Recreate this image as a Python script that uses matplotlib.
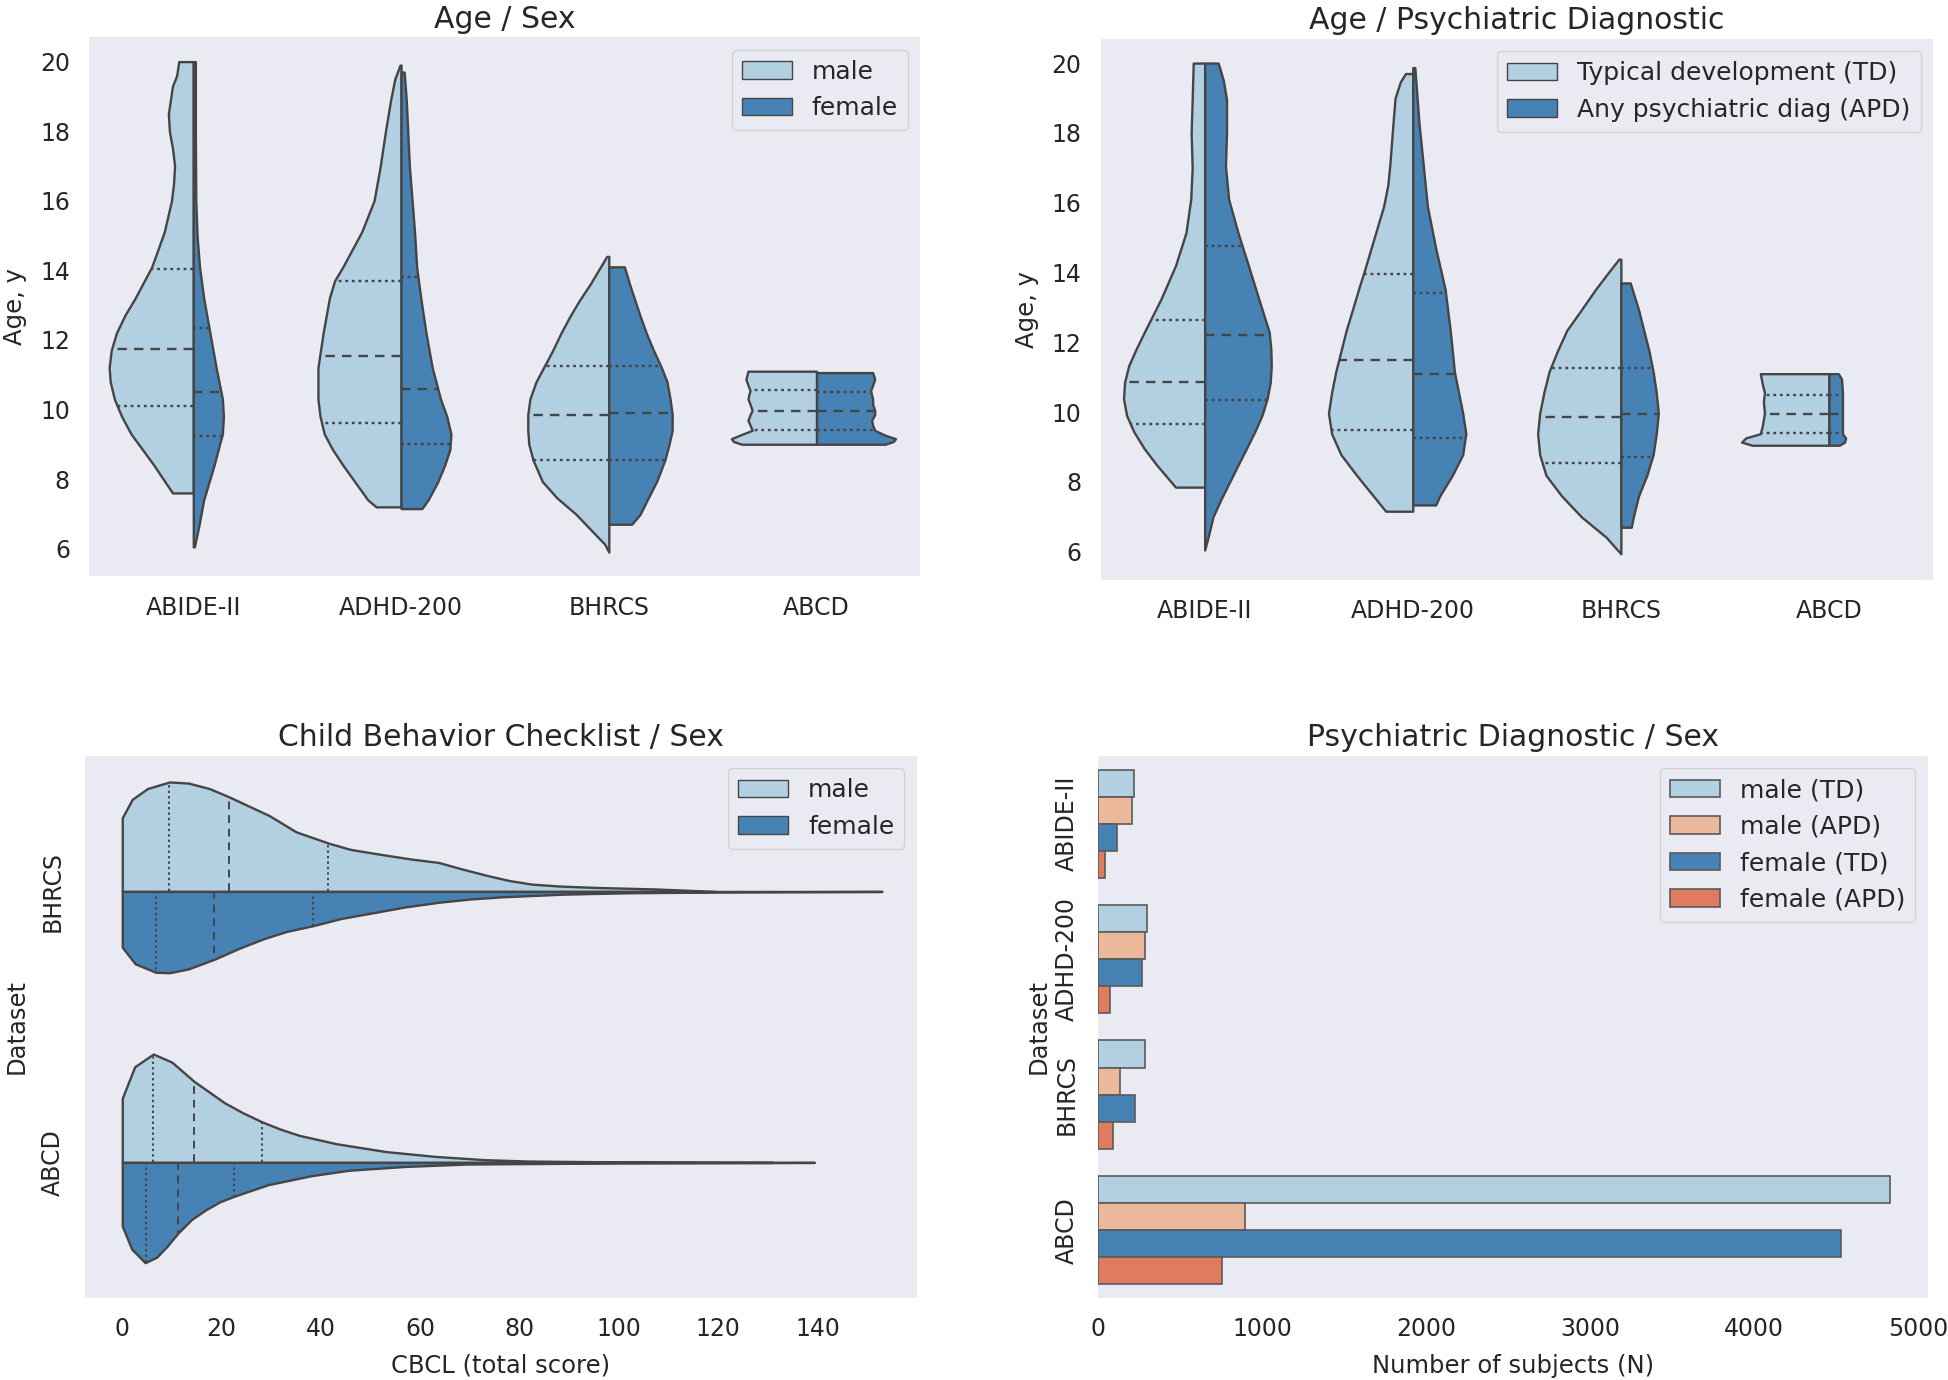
import numpy as np
import matplotlib.pyplot as plt
from matplotlib.patches import Patch

plt.rcParams['font.family'] = ['DejaVu Sans']
plt.rcParams['text.color'] = '#262626'
plt.rcParams['axes.labelcolor'] = '#262626'
plt.rcParams['xtick.color'] = '#262626'
plt.rcParams['ytick.color'] = '#262626'

# ---- data ----
datasets = ["ABIDE-II", "ADHD-200", "BHRCS", "ABCD"]
cbcl_datasets = ["BHRCS", "ABCD"]

# Age / Sex : half-violin profiles (age, half width) and quartiles
abide_m_age = [7.6, 8.4, 9.3, 9.8, 10.3, 10.8, 11.2, 11.7, 12.2, 12.7, 13.2, 14.1, 15.1, 16.0, 16.5, 17.0, 17.5, 18.0, 18.5, 18.9, 19.3, 19.6, 20.0]
abide_m_w = [0.10, 0.19, 0.30, 0.345, 0.38, 0.40, 0.405, 0.395, 0.37, 0.33, 0.28, 0.20, 0.14, 0.105, 0.095, 0.09, 0.10, 0.115, 0.12, 0.11, 0.10, 0.08, 0.07]
abide_f_age = [6.05, 6.6, 7.4, 8.4, 9.3, 9.8, 10.3, 11.2, 12.2, 13.2, 14.1, 15.0, 16.0, 18.0, 20.0]
abide_f_w = [0.005, 0.025, 0.05, 0.10, 0.14, 0.145, 0.14, 0.11, 0.08, 0.05, 0.03, 0.018, 0.012, 0.01, 0.01]
adhd_m_age = [7.2, 7.4, 7.9, 8.4, 8.85, 9.3, 9.8, 10.3, 11.2, 12.2, 13.2, 13.7, 14.1, 14.6, 15.1, 16.0, 17.0, 18.0, 18.9, 19.5, 19.9]
adhd_m_w = [0.12, 0.16, 0.22, 0.28, 0.33, 0.37, 0.39, 0.40, 0.40, 0.375, 0.345, 0.32, 0.28, 0.235, 0.19, 0.13, 0.10, 0.075, 0.05, 0.03, 0.005]
adhd_f_age = [7.15, 7.4, 7.9, 8.4, 8.85, 9.3, 9.8, 10.3, 11.2, 12.2, 13.2, 14.1, 15.1, 17.0, 18.9, 19.7]
adhd_f_w = [0.10, 0.13, 0.175, 0.21, 0.235, 0.24, 0.22, 0.19, 0.15, 0.12, 0.095, 0.075, 0.065, 0.04, 0.025, 0.015]
bhrcs_m_age = [5.9, 6.13, 6.5, 7.0, 7.46, 7.93, 8.55, 9.0, 9.4, 9.85, 10.3, 10.8, 11.25, 11.7, 12.2, 12.7, 13.15, 13.6, 14.1, 14.4]
bhrcs_m_w = [0.0, 0.02, 0.08, 0.16, 0.25, 0.32, 0.365, 0.385, 0.39, 0.39, 0.38, 0.35, 0.31, 0.27, 0.23, 0.185, 0.14, 0.09, 0.04, 0.01]
bhrcs_f_age = [6.7, 6.98, 7.46, 7.93, 8.55, 9.0, 9.4, 9.85, 10.3, 10.8, 11.25, 11.7, 12.2, 12.7, 13.15, 13.6, 14.1]
bhrcs_f_w = [0.11, 0.15, 0.19, 0.23, 0.27, 0.29, 0.305, 0.305, 0.295, 0.28, 0.25, 0.215, 0.18, 0.15, 0.125, 0.10, 0.075]
abcd_m_age = [9.0, 9.08, 9.16, 9.26, 9.4, 9.55, 9.69, 9.85, 9.97, 10.15, 10.3, 10.45, 10.54, 10.7, 10.87, 11.1]
abcd_m_w = [0.36, 0.40, 0.41, 0.37, 0.31, 0.32, 0.33, 0.32, 0.31, 0.32, 0.33, 0.325, 0.32, 0.33, 0.34, 0.33]
abcd_f_age = [9.0, 9.08, 9.16, 9.26, 9.4, 9.55, 9.69, 9.85, 9.97, 10.15, 10.3, 10.54, 10.7, 10.87, 11.06]
abcd_f_w = [0.33, 0.37, 0.38, 0.33, 0.28, 0.27, 0.265, 0.28, 0.28, 0.27, 0.27, 0.26, 0.27, 0.28, 0.27]
sex_quart_m = [[10.1, 11.75, 14.05], [9.6, 11.55, 13.7], [8.55, 9.85, 11.25], [9.4, 9.97, 10.55]]
sex_quart_f = [[9.25, 10.5, 12.35], [9.0, 10.6, 13.8], [8.55, 9.9, 11.25], [9.4, 9.97, 10.5]]

# Age / Psychiatric Diagnostic
abide_td_age = [7.85, 8.48, 8.95, 9.43, 9.9, 10.38, 10.85, 11.33, 11.8, 12.29, 13.24, 14.2, 15.14, 16.1, 17.0, 18.0, 18.95, 20.0]
abide_td_w = [0.14, 0.23, 0.29, 0.34, 0.375, 0.39, 0.385, 0.365, 0.33, 0.29, 0.21, 0.14, 0.09, 0.067, 0.06, 0.065, 0.06, 0.055]
abide_apd_age = [6.05, 6.5, 7.0, 7.52, 8.0, 8.48, 8.95, 9.43, 9.9, 10.38, 10.85, 11.33, 11.8, 12.29, 13.24, 14.2, 15.14, 16.1, 17.05, 18.0, 18.95, 19.5, 20.0]
abide_apd_w = [0.0, 0.02, 0.04, 0.08, 0.12, 0.16, 0.20, 0.24, 0.275, 0.30, 0.315, 0.32, 0.318, 0.31, 0.26, 0.21, 0.16, 0.115, 0.10, 0.105, 0.105, 0.09, 0.065]
adhd_td_age = [7.16, 7.6, 8.19, 8.78, 9.38, 9.97, 10.56, 11.16, 11.75, 12.34, 12.93, 13.53, 14.1, 14.7, 15.3, 15.9, 16.5, 17.1, 18.27, 19.0, 19.46, 19.7]
adhd_td_w = [0.13, 0.19, 0.27, 0.345, 0.39, 0.405, 0.39, 0.37, 0.345, 0.32, 0.29, 0.26, 0.23, 0.20, 0.17, 0.14, 0.12, 0.11, 0.095, 0.085, 0.06, 0.035]
adhd_apd_age = [7.34, 7.6, 8.19, 8.78, 9.38, 9.97, 10.56, 11.16, 12.34, 13.53, 14.7, 15.9, 17.1, 18.27, 19.87]
adhd_apd_w = [0.11, 0.13, 0.19, 0.24, 0.255, 0.24, 0.22, 0.20, 0.18, 0.155, 0.11, 0.07, 0.05, 0.03, 0.01]
bhrcs_td_age = [5.94, 6.41, 7.0, 7.6, 8.19, 8.78, 9.38, 9.97, 10.56, 11.16, 11.75, 12.34, 12.93, 13.53, 14.0, 14.38]
bhrcs_td_w = [0.0, 0.07, 0.19, 0.285, 0.36, 0.39, 0.40, 0.39, 0.37, 0.345, 0.305, 0.26, 0.19, 0.12, 0.06, 0.01]
bhrcs_apd_age = [6.7, 7.0, 7.6, 8.19, 8.78, 9.38, 9.97, 10.56, 11.16, 11.75, 12.34, 12.93, 13.7]
bhrcs_apd_w = [0.05, 0.06, 0.085, 0.125, 0.155, 0.17, 0.18, 0.17, 0.155, 0.135, 0.11, 0.085, 0.045]
abcd_td_age = [9.05, 9.14, 9.26, 9.38, 9.61, 9.97, 10.3, 10.56, 10.8, 11.1]
abcd_td_w = [0.37, 0.42, 0.40, 0.33, 0.32, 0.31, 0.315, 0.31, 0.32, 0.33]
abcd_apd_age = [9.05, 9.14, 9.26, 9.38, 9.97, 10.56, 10.95, 11.1]
abcd_apd_w = [0.05, 0.075, 0.08, 0.065, 0.065, 0.065, 0.06, 0.045]
diag_quart_td = [[9.65, 10.85, 12.65], [9.5, 11.5, 13.95], [8.55, 9.85, 11.25], [9.4, 9.95, 10.5]]
diag_quart_apd = [[10.35, 12.2, 14.75], [9.25, 11.1, 13.4], [8.7, 9.95, 11.25], [9.4, 9.95, 10.5]]

# CBCL / Sex (score, half width)
cb_bhrcs_m_x = [0, 2.0, 5.1, 9.5, 13.3, 17.5, 21.4, 25.5, 29.6, 35, 41.6, 46, 51, 58, 63.7, 68, 73.7, 78, 82.5, 88, 95, 107.7, 119.6]
cb_bhrcs_m_w = [0.272, 0.34, 0.38, 0.404, 0.40, 0.38, 0.35, 0.315, 0.28, 0.22, 0.178, 0.155, 0.14, 0.12, 0.107, 0.085, 0.058, 0.04, 0.027, 0.02, 0.015, 0.009, 0.0]
cb_bhrcs_f_x = [0, 2.6, 6.7, 9.5, 13.3, 18.7, 23.5, 28.4, 33, 38.5, 44, 51, 57, 63.7, 70, 76.3, 88.9, 101.5, 120, 153]
cb_bhrcs_f_w = [0.206, 0.267, 0.298, 0.30, 0.286, 0.249, 0.21, 0.175, 0.148, 0.126, 0.10, 0.077, 0.057, 0.04, 0.028, 0.02, 0.01, 0.005, 0.002, 0.0]
cb_abcd_m_x = [0, 2.5, 6.25, 10, 14.4, 17.5, 20.6, 24.3, 28.1, 31.8, 35.6, 43.1, 53.1, 63.1, 73.1, 81.9, 100, 131]
cb_abcd_m_w = [0.237, 0.353, 0.40, 0.37, 0.30, 0.26, 0.22, 0.183, 0.15, 0.123, 0.10, 0.069, 0.04, 0.022, 0.01, 0.005, 0.002, 0.0]
cb_abcd_f_x = [0, 1.9, 4.6, 6.9, 9.0, 11.25, 14.0, 16.9, 19.7, 22.5, 29.4, 38.1, 45.6, 56.9, 69.4, 100, 139.4]
cb_abcd_f_w = [0.235, 0.32, 0.37, 0.35, 0.31, 0.26, 0.21, 0.174, 0.145, 0.125, 0.082, 0.049, 0.029, 0.015, 0.006, 0.002, 0.0]
cb_quart_m = [[9.5, 21.5, 41.5], [6.25, 14.4, 28.2]]
cb_quart_f = [[6.7, 18.5, 38.4], [4.7, 11.25, 22.4]]

# Psychiatric Diagnostic / Sex counts
male_td = [218, 298, 285, 4830]
male_apd = [203, 283, 132, 893]
female_td = [115, 268, 225, 4530]
female_apd = [38, 70, 87, 756]
bar_labels = ["male (TD)", "male (APD)", "female (TD)", "female (APD)"]

# ---- style ----
light_blue = "#b3cfe2"
dark_blue = "#4682b4"
light_orange = "#ebb89c"
red_orange = "#df7c5f"
edge = "#454545"
bg = "#eaeaf2"
tick_fs = 17
label_fs = 17.5
title_fs = 21.5
legend_fs = 18


def style_ax(ax):
    ax.set_facecolor(bg)
    for s in ax.spines.values():
        s.set_visible(False)
    ax.tick_params(length=0, pad=14, labelsize=tick_fs)


def half(ax, pos, vals, w, side, color, quart, horizontal=False):
    vals = np.asarray(vals)
    w = np.asarray(w)
    if horizontal:
        ax.fill_between(vals, pos, pos + side * w, facecolor=color, edgecolor=edge, linewidth=1.7, zorder=2)
    else:
        ax.fill_betweenx(vals, pos, pos + side * w, facecolor=color, edgecolor=edge, linewidth=1.7, zorder=2)
    for q, ls in zip(quart, [(0, (1.2, 1.6)), (0, (4, 3)), (0, (1.2, 1.6))]):
        qw = np.interp(q, vals, w)
        if horizontal:
            ax.plot([q, q], [pos, pos + side * qw], color=edge, linestyle=ls, linewidth=1.4, zorder=3)
        else:
            ax.plot([pos, pos + side * qw], [q, q], color=edge, linestyle=ls, linewidth=1.7, zorder=3)


def add_legend(ax, labels, colors):
    handles = [Patch(facecolor=c, edgecolor=edge, linewidth=1.0, label=l) for l, c in zip(labels, colors)]
    leg = ax.legend(handles=handles, loc="upper right", fontsize=legend_fs, frameon=True,
                    facecolor=bg, edgecolor="#cccccc", framealpha=0.8)
    leg.get_frame().set_linewidth(1.0)


fig = plt.figure(figsize=(19.48, 13.8), dpi=100, facecolor="white")
ax1 = fig.add_axes([0.0459, 0.5823, 0.4266, 0.3907])
ax2 = fig.add_axes([0.5650, 0.5800, 0.4273, 0.3920])
ax3 = fig.add_axes([0.0434, 0.0595, 0.4272, 0.3927])
ax4 = fig.add_axes([0.5638, 0.0595, 0.4259, 0.3927])
for ax in (ax1, ax2, ax3, ax4):
    style_ax(ax)

# Age / Sex
sex_left = [(abide_m_age, abide_m_w), (adhd_m_age, adhd_m_w), (bhrcs_m_age, bhrcs_m_w), (abcd_m_age, abcd_m_w)]
sex_right = [(abide_f_age, abide_f_w), (adhd_f_age, adhd_f_w), (bhrcs_f_age, bhrcs_f_w), (abcd_f_age, abcd_f_w)]
for i in range(len(datasets)):
    half(ax1, i, sex_left[i][0], sex_left[i][1], -1, light_blue, sex_quart_m[i])
    half(ax1, i, sex_right[i][0], sex_right[i][1], 1, dark_blue, sex_quart_f[i])
ax1.set_xlim(-0.5, 3.5)
ax1.set_ylim(5.2, 20.7)
ax1.set_xticks(range(len(datasets)))
ax1.set_xticklabels(datasets)
ax1.set_yticks(np.arange(6, 21, 2))
ax1.set_ylabel("Age, y", fontsize=label_fs, labelpad=9)
ax1.set_title("Age / Sex", fontsize=title_fs, pad=7)
add_legend(ax1, ["male", "female"], [light_blue, dark_blue])

# Age / Psychiatric Diagnostic
diag_left = [(abide_td_age, abide_td_w), (adhd_td_age, adhd_td_w), (bhrcs_td_age, bhrcs_td_w), (abcd_td_age, abcd_td_w)]
diag_right = [(abide_apd_age, abide_apd_w), (adhd_apd_age, adhd_apd_w), (bhrcs_apd_age, bhrcs_apd_w), (abcd_apd_age, abcd_apd_w)]
for i in range(len(datasets)):
    half(ax2, i, diag_left[i][0], diag_left[i][1], -1, light_blue, diag_quart_td[i])
    half(ax2, i, diag_right[i][0], diag_right[i][1], 1, dark_blue, diag_quart_apd[i])
ax2.set_xlim(-0.5, 3.5)
ax2.set_ylim(5.2, 20.7)
ax2.set_xticks(range(len(datasets)))
ax2.set_xticklabels(datasets)
ax2.set_yticks(np.arange(6, 21, 2))
ax2.set_ylabel("Age, y", fontsize=label_fs, labelpad=9)
ax2.set_title("Age / Psychiatric Diagnostic", fontsize=title_fs, pad=7)
add_legend(ax2, ["Typical development (TD)", "Any psychiatric diag (APD)"], [light_blue, dark_blue])

# CBCL / Sex
cb_up = [(cb_bhrcs_m_x, cb_bhrcs_m_w), (cb_abcd_m_x, cb_abcd_m_w)]
cb_down = [(cb_bhrcs_f_x, cb_bhrcs_f_w), (cb_abcd_f_x, cb_abcd_f_w)]
for i in range(len(cbcl_datasets)):
    half(ax3, i, cb_up[i][0], cb_up[i][1], -1, light_blue, cb_quart_m[i], horizontal=True)
    half(ax3, i, cb_down[i][0], cb_down[i][1], 1, dark_blue, cb_quart_f[i], horizontal=True)
ax3.set_xlim(-7.6, 160)
ax3.set_ylim(1.5, -0.5)
ax3.set_xticks(np.arange(0, 141, 20))
ax3.set_yticks(range(len(cbcl_datasets)))
ax3.set_yticklabels(cbcl_datasets, rotation=90, va="center")
ax3.set_xlabel("CBCL (total score)", fontsize=label_fs, labelpad=9)
ax3.set_ylabel("Dataset", fontsize=label_fs, labelpad=9)
ax3.set_title("Child Behavior Checklist / Sex", fontsize=title_fs, pad=7)
add_legend(ax3, ["male", "female"], [light_blue, dark_blue])

# Psychiatric Diagnostic / Sex
series = [male_td, male_apd, female_td, female_apd]
colors = [light_blue, light_orange, dark_blue, red_orange]
offsets = [-0.3, -0.1, 0.1, 0.3]
ypos = np.arange(len(datasets))
for vals, col, off, lab in zip(series, colors, offsets, bar_labels):
    ax4.barh(ypos + off, vals, height=0.2, color=col, edgecolor="#5a5a5a", linewidth=1.2, label=lab, zorder=2)
ax4.set_xlim(0, 5060)
ax4.set_ylim(3.5, -0.5)
ax4.set_xticks(np.arange(0, 5001, 1000))
ax4.set_yticks(ypos)
ax4.set_yticklabels(datasets, rotation=90, va="center")
ax4.set_xlabel("Number of subjects (N)", fontsize=label_fs, labelpad=9)
ax4.set_ylabel("Dataset", fontsize=label_fs, labelpad=3)
ax4.set_title("Psychiatric Diagnostic / Sex", fontsize=title_fs, pad=7)
leg = ax4.legend(loc="upper right", fontsize=legend_fs, frameon=True, facecolor=bg,
                 edgecolor="#cccccc", framealpha=0.8)

fig.savefig("out.png", dpi=100, facecolor="white")
